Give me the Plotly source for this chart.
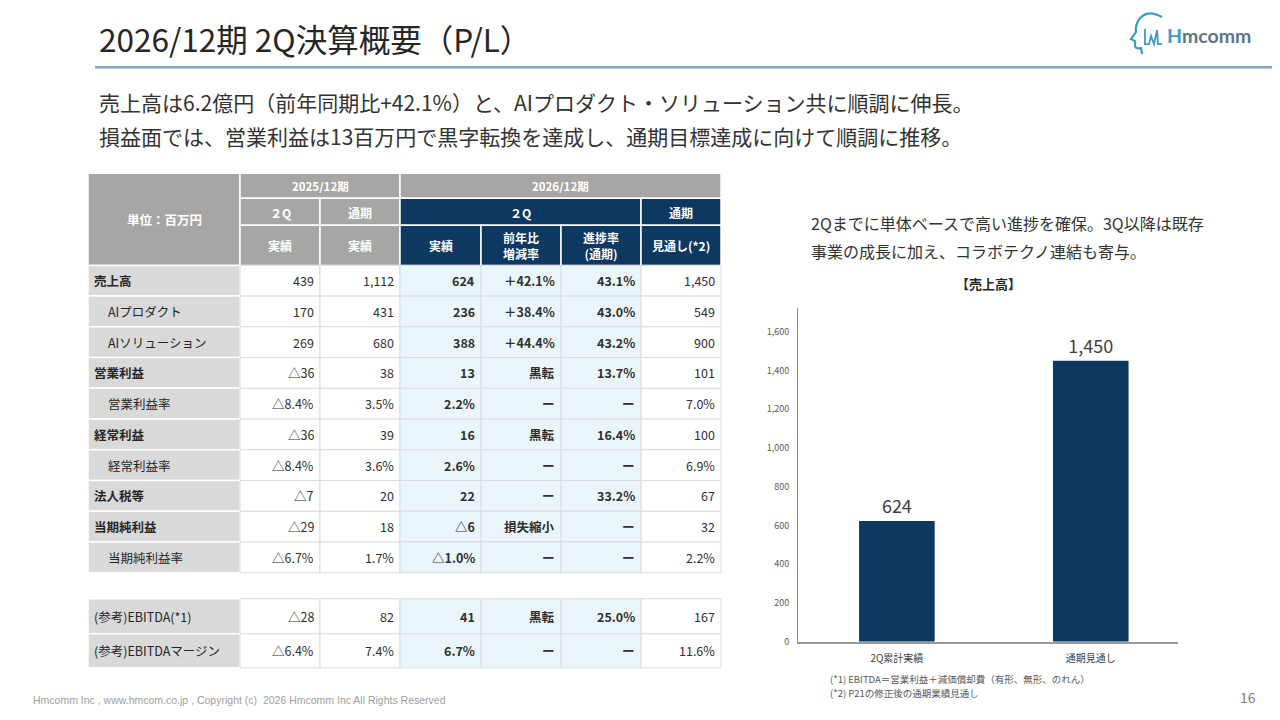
import plotly.graph_objects as go

# ---- table data (単位：百万円) ----
row_labels = ["売上高", "AIプロダクト", "AIソリューション", "営業利益", "営業利益率",
              "経常利益", "経常利益率", "法人税等", "当期純利益", "当期純利益率",
              "(参考)EBITDA(*1)", "(参考)EBITDAマージン"]
main_rows = ["売上高", "営業利益", "経常利益", "法人税等", "当期純利益"]
sub_rows = ["AIプロダクト", "AIソリューション", "営業利益率", "経常利益率", "当期純利益率"]

fy25_2q = ["439", "170", "269", "△36", "△8.4%", "△36", "△8.4%", "△7", "△29", "△6.7%", "△28", "△6.4%"]
fy25_full = ["1,112", "431", "680", "38", "3.5%", "39", "3.6%", "20", "18", "1.7%", "82", "7.4%"]
fy26_2q = ["624", "236", "388", "13", "2.2%", "16", "2.6%", "22", "△6", "△1.0%", "41", "6.7%"]
fy26_yoy = ["＋42.1%", "＋38.4%", "＋44.4%", "黒転", "ー", "黒転", "ー", "ー", "損失縮小", "ー", "黒転", "ー"]
fy26_progress = ["43.1%", "43.0%", "43.2%", "13.7%", "ー", "16.4%", "ー", "33.2%", "ー", "ー", "25.0%", "ー"]
fy26_forecast = ["1,450", "549", "900", "101", "7.0%", "100", "6.9%", "67", "32", "2.2%", "167", "11.6%"]

unit_label = "単位：百万円"
header_top = ["2025/12期", "2026/12期"]
header_mid = ["２Q", "通期", "２Q", "通期"]
header_low = ["実績", "実績", "実績", "前年比<br>増減率", "進捗率<br>(通期)", "見通し(*2)"]

# ---- bar chart data ----
bar_categories = ["2Q累計実績", "通期見通し"]
bar_values = [624, 1450]

# ---- texts ----
title = "2026/12期 2Q決算概要（P/L）"
lead_lines = ["売上高は6.2億円（前年同期比+42.1%）と、AIプロダクト・ソリューション共に順調に伸長。",
              "損益面では、営業利益は13百万円で黒字転換を達成し、通期目標達成に向けて順調に推移。"]
side_lines = ["2Qまでに単体ベースで高い進捗を確保。3Q以降は既存",
              "事業の成長に加え、コラボテクノ連結も寄与。"]
chart_title = "【売上高】"
notes = ["(*1) EBITDA＝営業利益＋減価償却費（有形、無形、のれん）",
         "(*2) P21の修正後の通期業績見通し"]
footer = "Hmcomm Inc , www.hmcom.co.jp , Copyright (c)  2026 Hmcomm Inc All Rights Reserved"
page_no = "16"

JP = "Noto Sans CJK JP"
NAVY = "#0c3862"
GRAY = "#a6a6a6"
LABEL_BG = "#d9d9d9"
BLUE_BG = "#eaf6fb"
INK = "#262626"

# page body has an 8px margin and the capture is squeezed a little vertically,
# so the overlay axis is set up so that its units are pixels of the final picture
OFF = 8
SY = 720 / 727
W, H = 1280 - OFF, 727 - 2 * OFF

shapes = []
annotations = []


def rect(x0, y0, x1, y1, fill, line="white", lw=1.5):
    shapes.append(dict(type="rect", xref="x2", yref="y2", x0=x0, y0=y0, x1=x1, y1=y1,
                       fillcolor=fill, line=dict(color=line, width=lw), layer="below"))


def txt(x, y, s, size=12.5, color=INK, anchor="left", family=JP):
    annotations.append(dict(xref="x2", yref="y2", x=x, y=y, text=s, showarrow=False,
                            xanchor=anchor, yanchor="middle", align="center",
                            font=dict(family=family, size=size, color=color)))


# ---- table geometry ----
col_x = [88, 240, 320, 400, 481, 561, 641, 721]
body_rows = [(265 + 30.7 * i, 265 + 30.7 * (i + 1)) for i in range(10)] + [(598, 633), (633, 667)]

# header block
rect(88, 173, 240, 265, GRAY)
txt(164, 219, "<b>" + unit_label + "</b>", 12.5, "white", "center")
top_spans = [(240, 400), (400, 721)]
for (x0, x1), s in zip(top_spans, header_top):
    rect(x0, 173, x1, 198, GRAY)
    txt((x0 + x1) / 2, 186, "<b>" + s + "</b>", 11.5, "white", "center")
mid_spans = [(240, 320, GRAY), (320, 400, GRAY), (400, 641, NAVY), (641, 721, NAVY)]
for (x0, x1, c), s in zip(mid_spans, header_mid):
    rect(x0, 198, x1, 225, c)
    txt((x0 + x1) / 2, 212, "<b>" + s + "</b>", 12, "white", "center")
for i, s in enumerate(header_low):
    c = GRAY if i < 2 else NAVY
    rect(col_x[i + 1], 225, col_x[i + 2], 265, c)
    txt((col_x[i + 1] + col_x[i + 2]) / 2, 245, "<b>" + s + "</b>", 12, "white", "center")

# body
value_cols = [fy25_2q, fy25_full, fy26_2q, fy26_yoy, fy26_progress, fy26_forecast]
strong_cols = [2, 3, 4]
for r, label in enumerate(row_labels):
    y0, y1 = body_rows[r]
    ym = (y0 + y1) / 2
    rect(88, y0, 240, y1, LABEL_BG)
    if label in main_rows:
        txt(92, ym, "<b>" + label + "</b>", 12.5)
    elif label in sub_rows:
        txt(106, ym, label, 12.5)
    else:
        txt(92, ym, label, 12.5)
    for c, col in enumerate(value_cols):
        x0, x1 = col_x[c + 1], col_x[c + 2]
        rect(x0, y0, x1, y1, BLUE_BG if c in strong_cols else "white", "#dcdcdc", 1)
        s = col[r]
        if c in strong_cols:
            s = "<b>" + s + "</b>"
        txt(x1 - 4, ym, s, 12.5, "#303030", "right")

# ---- header, logo, lines ----
txt(97, 38, title, 31.5, INK)
shapes.append(dict(type="line", xref="x2", yref="y2", x0=95, y0=67, x1=1280, y1=67,
                   line=dict(color="#7ea6c6", width=2.5)))
shapes.append(dict(type="path", xref="x2", yref="y2",
                   path="M 1162 17 Q 1146 8 1138 21 Q 1135 27 1136 32 L 1131 39 L 1135 41 "
                        "L 1135 46 Q 1136 49 1141 48 L 1142 54",
                   line=dict(color="#3a9cc4", width=2.2)))
shapes.append(dict(type="path", xref="x2", yref="y2",
                   path="M 1145 29 L 1145 44 L 1149 44 L 1151 36 L 1154 44 L 1157 30 L 1158 44 L 1162 44",
                   line=dict(color="#3a9cc4", width=1.8)))
txt(1165, 35, "<b><span style='color:#3a9cc4'>H</span><span style='color:#5d7585'>mcomm</span></b>",
    19.5, "#5d7585", "left", "Lato")

for i, s in enumerate(lead_lines):
    txt(97, 102 + 34 * i, s, 21, "#333333")
for i, s in enumerate(side_lines):
    txt(809, 223 + 28 * i, s, 16, "#333333")
txt(988, 283, "<b>" + chart_title + "</b>", 13, INK, "center")
for i, s in enumerate(notes):
    txt(828, 678 + 14 * i, s, 9.5, "#595959")
txt(31, 699, footer, 10.5, "#a0a0a0", "left", "Liberation Sans")
txt(1258, 696, page_no, 14, "#808080", "right")

# ---- figure ----
fig = go.Figure()
fig.add_trace(go.Bar(x=bar_categories, y=bar_values,
                     marker=dict(color=NAVY, line=dict(width=0)),
                     width=0.39,
                     text=[f"{v:,}" for v in bar_values],
                     textposition="outside",
                     textfont=dict(family=JP, size=18, color="#404040"),
                     cliponaxis=False,
                     showlegend=False,
                     hoverinfo="skip"))
fig.add_trace(go.Scatter(x=[OFF], y=[OFF * SY], xaxis="x2", yaxis="y2", mode="markers",
                         marker=dict(opacity=0), showlegend=False, hoverinfo="skip"))


def px_x(p):
    return (p - OFF) / W


def px_y(p):
    return 1 - (p / SY - OFF) / H


fig.update_layout(
    width=W, height=H,
    margin=dict(l=0, r=0, t=0, b=0),
    paper_bgcolor="white",
    plot_bgcolor="rgba(0,0,0,0)",
    font=dict(family=JP, color=INK),
    xaxis=dict(domain=[px_x(798), px_x(1178)], type="category", range=[-0.51, 1.45],
               showline=True, linecolor="#9a9a9a", linewidth=1.5, ticks="",
               tickfont=dict(family=JP, size=10, color="#404040"), ticklabelstandoff=6,
               showgrid=False, zeroline=False, anchor="y", fixedrange=True),
    yaxis=dict(domain=[px_y(641), px_y(308)], range=[0, 1720], dtick=200,
               tickformat=",", showline=True, linecolor="#8c8c8c", linewidth=1,
               ticks="", tickfont=dict(family=JP, size=9, color="#595959"),
               ticklabelstandoff=6, showgrid=False, zeroline=False, anchor="x", fixedrange=True),
    xaxis2=dict(domain=[0, 1], range=[OFF, 1280], visible=False, anchor="y2", fixedrange=True),
    yaxis2=dict(domain=[0, 1], range=[(OFF + H) * SY, OFF * SY], visible=False,
                anchor="x2", fixedrange=True),
    shapes=shapes,
    annotations=annotations,
)

fig.write_html("out.html")
